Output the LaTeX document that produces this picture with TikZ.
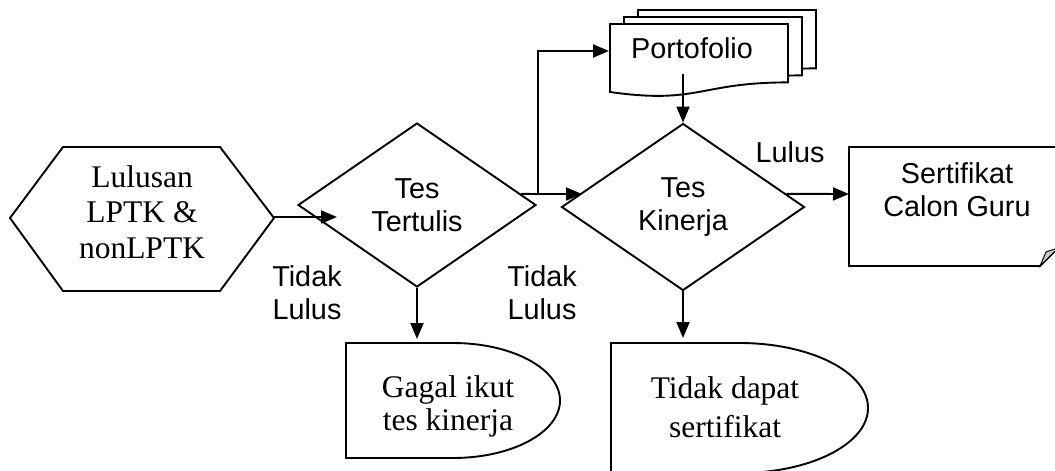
\documentclass[tikz,border=0pt]{standalone}
\usepackage{fontspec}
\setmainfont{Liberation Serif}
\setsansfont{Liberation Sans}
\usepackage{tikz}
\usetikzlibrary{positioning,shapes.geometric,arrows.meta,calc}

\begin{document}
\begin{tikzpicture}[x=1pt, y=-1pt, line width=1.9pt,
    decision/.style={draw, diamond, inner sep=0pt, align=center, font=\sffamily\fontsize{28.8}{33}\selectfont},
    lbl/.style={inner sep=0pt, align=center, font=\sffamily\fontsize{28.8}{33}\selectfont},
    txt/.style={inner sep=0pt, align=center, font=\fontsize{31.5}{36}\selectfont},
    arr/.style={-{Triangle[length=16pt, width=13pt]}}]
    \useasboundingbox (0,0) rectangle (1055,471);

    % start: hexagon
    \draw (10,218) -- (63,147) -- (220,147) -- (274,218) -- (220,291) -- (63,291) -- cycle;
    \node[txt, font=\fontsize{31.5}{35.5}\selectfont] (lulusan) at (142,212) {Lulusan\\LPTK \&\\nonLPTK};
    \coordinate (lulusanR) at (274,217);

    % the two tests
    \node[decision, minimum width=238pt, minimum height=164pt] (tt) at (417,205) {Tes\\Tertulis};
    \node[decision, minimum width=243pt, minimum height=167pt] (tk) at (683,207) {Tes\\Kinerja};

    % portofolio stack
    \foreach \d in {28,14,0}
        \draw[fill=white, shift={(\d,-\d/2)}] (610,24) -- (788,24) -- (788,82.4)
            .. controls (699,82.4) and (699,104.6) .. (610,92) -- cycle;
    \node[lbl] (port) at (692,48) {Portofolio};

    % sertifikat with folded corner
    \draw (849,147) -- (1058,147) -- (1058,248) -- (1040,266) -- (849,266) -- cycle;
    \draw[fill=gray!40, line width=1pt] (1040,266) -- (1046,252) -- (1058,248) -- cycle;
    \node[lbl] (cert) at (957,190) {Sertifikat\\Calon Guru};

    % delay boxes
    \draw (346,343) -- (453,343) arc[start angle=-90, end angle=90, x radius=107, y radius=57.5] -- (346,458) -- cycle;
    \node[txt, font=\fontsize{31.5}{33}\selectfont] (gagal) at (448,406) {Gagal ikut\\tes kinerja};
    \draw (611,343) -- (739.5,343) arc[start angle=-90, end angle=90, x radius=128.5, y radius=65] -- (611,473) -- cycle;
    \node[txt, font=\fontsize{31.5}{39}\selectfont] (nocert) at (725,407) {Tidak dapat\\sertifikat};

    % labels
    \node[lbl] (fail1) at (307,293) {Tidak\\Lulus};
    \node[lbl] (fail2) at (542,293) {Tidak\\Lulus};
    \node[lbl] (pass) at (790,152) {Lulus};

    % connectors
    \coordinate (ttIn) at (337,217);
    \coordinate (split) at (538,194);
    \coordinate (tkIn) at (582,194);
    \coordinate (portIn) at (609,51);
    \coordinate (portOut) at (683,74);
    \coordinate (certIn) at (849,194);
    \coordinate (gagalIn) at (417,339);
    \coordinate (nocertIn) at (683,338);

    \draw[arr] (lulusanR) -- (ttIn);
    \draw ($(tt.east)!0.134!(tt.north)$) -- (split);
    \draw[arr] (split) -- (tkIn);
    \draw[arr] (split) |- (portIn);
    \draw[arr] (portOut) -- (tk.north);
    \draw[arr] ($(tk.east)!0.156!(tk.north)$) -- (certIn);
    \draw[arr] (tt.south) -- (gagalIn);
    \draw[arr] (tk.south) -- (nocertIn);
\end{tikzpicture}
\end{document}
